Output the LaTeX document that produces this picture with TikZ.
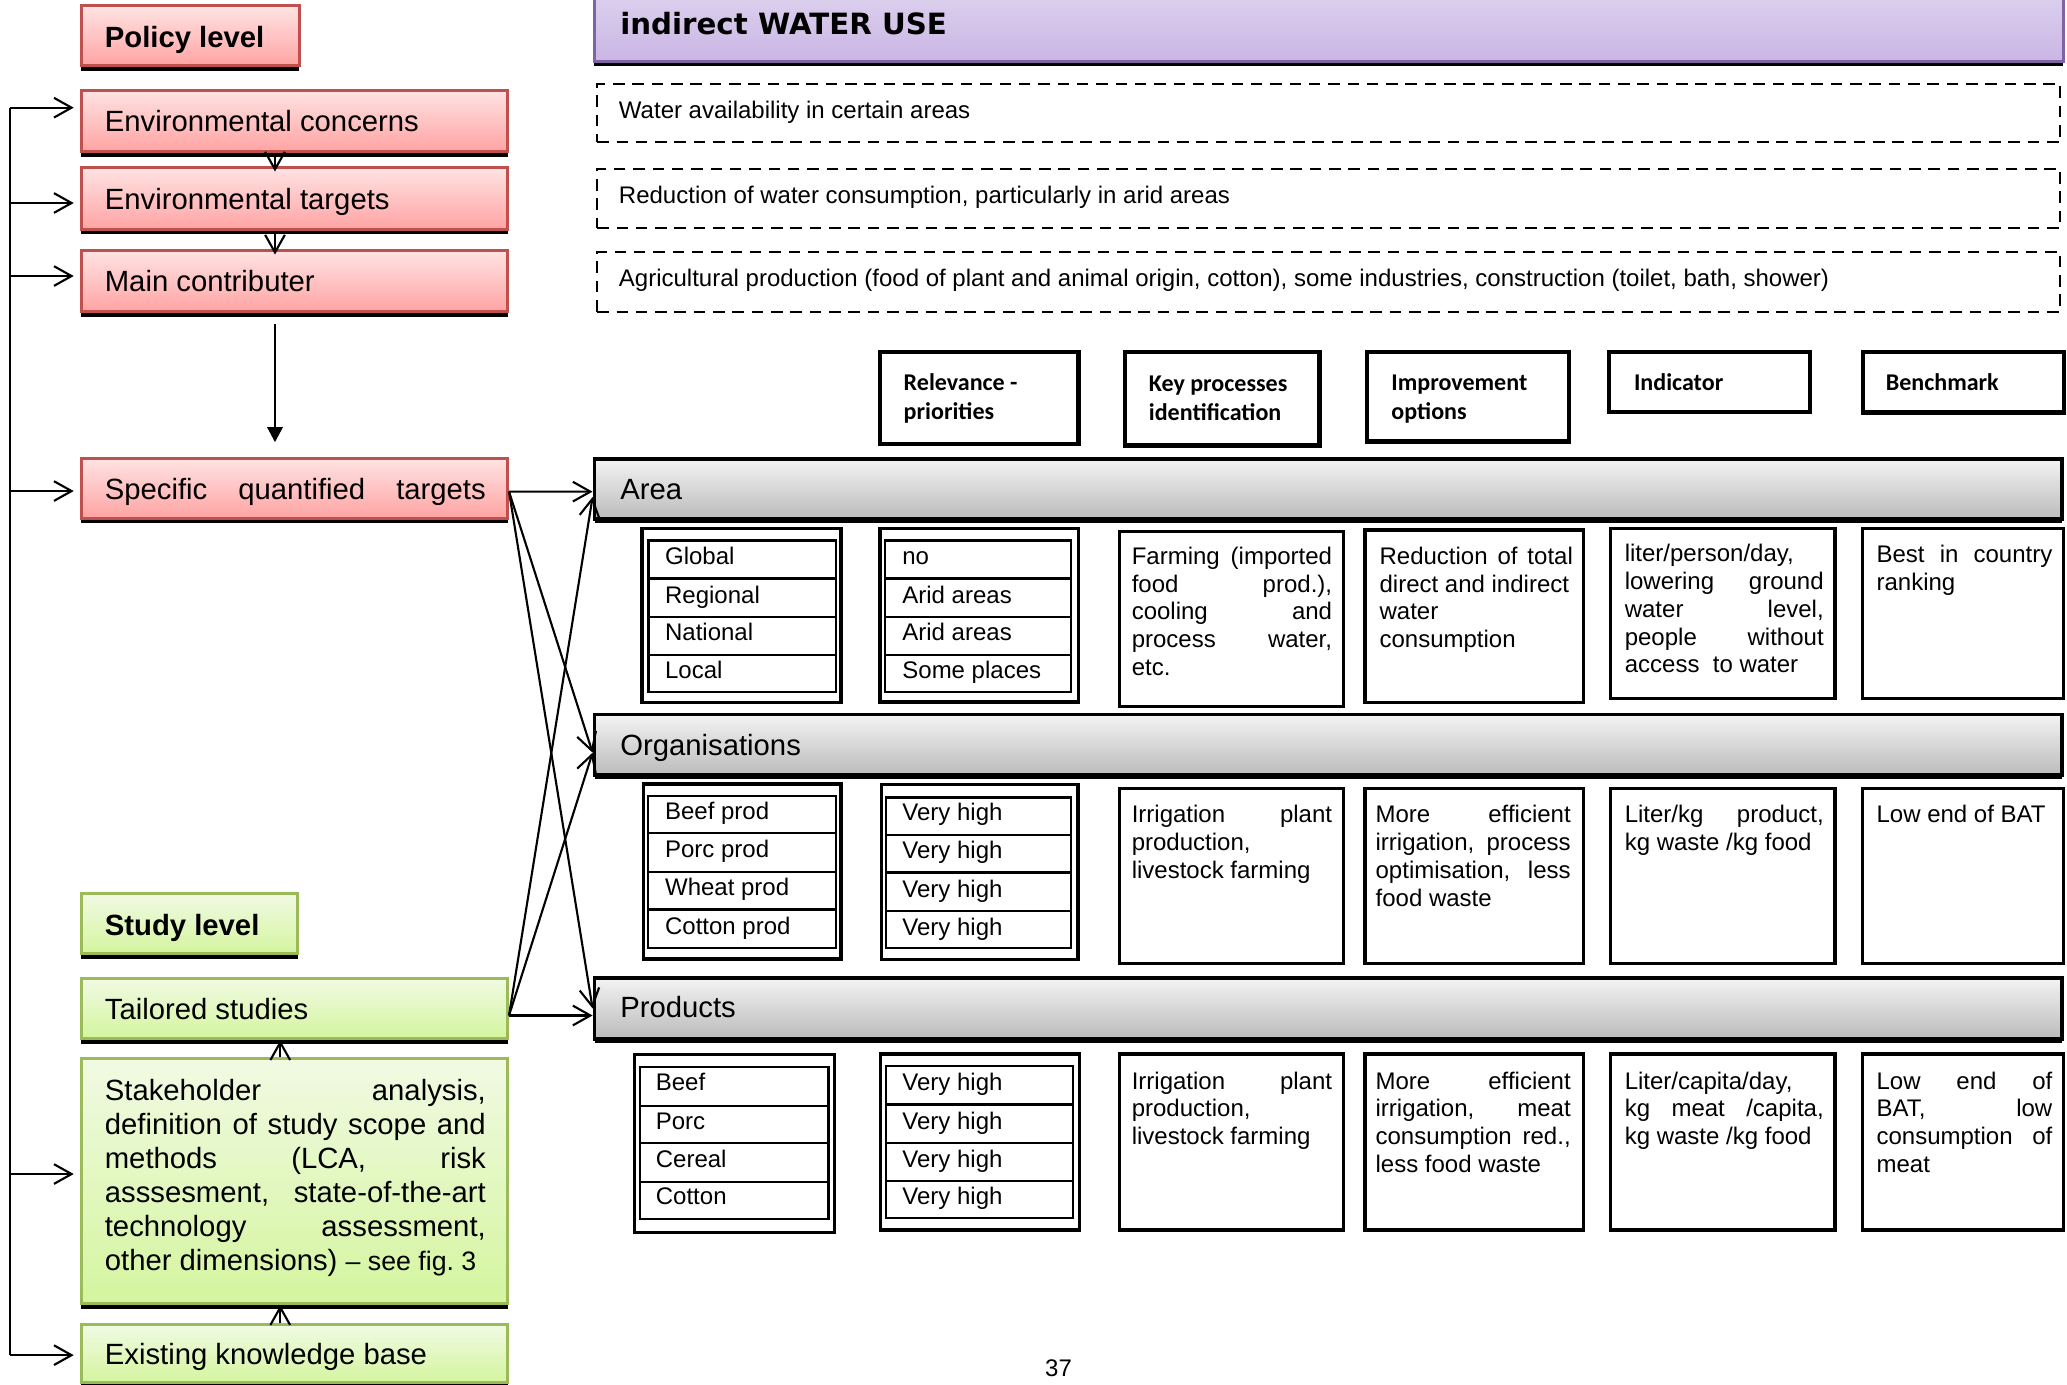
\documentclass[tikz,border=0pt]{standalone}
\usepackage{fontspec}
\setmainfont{Liberation Sans}
\newfontfamily\calibfont{Carlito}
\newfontfamily\dejafont{DejaVu Sans}
\usetikzlibrary{arrows.meta,shadows,fit}
\frenchspacing
\definecolor{redB}{HTML}{C0504D}
\definecolor{redT}{HTML}{FFE3E3}
\definecolor{redBot}{HTML}{FFA3A3}
\definecolor{grnB}{HTML}{9BBB59}
\definecolor{grnT}{HTML}{F1FAE3}
\definecolor{grnBot}{HTML}{D4F59E}
\definecolor{purB}{HTML}{8064A2}
\definecolor{purT}{HTML}{E4DEF2}
\definecolor{purBot}{HTML}{CAB5E4}
\definecolor{gryT}{HTML}{F3F3F3}
\definecolor{gryBot}{HTML}{BBBBBB}
\newcommand\bx[6]{\node[#1,inner sep=0pt,fit={(#3,#4)(#5,#6)}] (#2) {};}
\newcommand\nohyph{\hyphenpenalty=10000 \exhyphenpenalty=10000 \relax}
\tikzset{
 shad/.style={drop shadow={shadow xshift=0pt,shadow yshift=-#1,fill=black,opacity=1}},
 redbox/.style={draw=redB,line width=0.85pt,top color=redT,bottom color=redBot,shad=1.4pt},
 grnbox/.style={draw=grnB,line width=0.85pt,top color=grnT,bottom color=grnBot,shad=1.4pt},
 purbox/.style={draw=purB,line width=0.85pt,top color=purT,bottom color=purBot,shad=1.3pt},
 barbox/.style={draw=black,line width=1.1pt,top color=gryT,bottom color=gryBot,shad=1.2pt},
 hdbox/.style={draw=black,line width=1.25pt,fill=white,shad=0.5pt},
 cellbox/.style={draw=black,line width=0.9pt,fill=white,shad=0.45pt},
 rowbox/.style={draw=black,line width=0.7pt},
 dashbox/.style={draw=black,line width=0.6pt,dash pattern=on 3.3pt off 2.2pt},
 bigtxt/.style={font=\fontsize{8.33}{9.68}\selectfont,inner sep=0pt,anchor=west,text height=6pt,text depth=0pt},
 boldtxt/.style={bigtxt,font=\fontsize{8.33}{9.68}\selectfont\bfseries},
 smtxt/.style={font=\fontsize{6.83}{7.9}\selectfont,inner sep=0pt,anchor=west,text height=4.92pt,text depth=0pt},
 celltxt/.style={font=\fontsize{6.83}{7.9}\selectfont\nohyph,inner sep=0pt,anchor=north west,align=justify},
 hdtxt/.style={font=\calibfont\bfseries\fontsize{6.84}{8.25}\selectfont,inner sep=0pt,anchor=north west,align=left},
 conn/.style={line width=0.6pt},
 arr/.style={conn,-{Straight Barb[length=5pt,width=5.6pt,line width=0.6pt]}},
 tri/.style={conn,-{Triangle[length=4.3pt,width=4.4pt]}},
}
\begin{document}
\begin{tikzpicture}[x=0.37508pt,y=-0.37508pt]
\fill[white] (0,0) rectangle (1568,1050.6);
\useasboundingbox (0,0) rectangle (1568,1050.6);

% ---------- title and dashed boxes
\bx{purbox}{title}{450.6}{-30}{1565}{46.5}
\node[bigtxt,font=\dejafont\bfseries\fontsize{8.33}{9.68}\selectfont] (titlet) at (470,18) {indirect WATER USE};

\bx{dashbox}{d1}{453}{63.7}{1563}{108}
\node[smtxt] (d1t) at (469,83.4) {Water availability in certain areas};
\bx{dashbox}{d2}{453}{128}{1563}{173}
\node[smtxt] (d2t) at (469,148) {Reduction of water consumption, particularly in arid areas};
\bx{dashbox}{d3}{453}{191}{1563}{236.5}
\node[smtxt] (d3t) at (469,211) {Agricultural production (food of plant and animal origin, cotton), some industries, construction (toilet, bath, shower)};

% ---------- column headers
\bx{hdbox}{h1}{667.5}{267}{818}{337}
\node[hdtxt] (h1t) at (685,283) {Relevance -\\priorities};
\bx{hdbox}{h2}{853.5}{267}{1001}{338}
\node[hdtxt] (h2t) at (871,285) {Key processes\\identification};
\bx{hdbox}{h3}{1037}{267}{1190}{335}
\node[hdtxt] (h3t) at (1055,284) {Improvement\\options};
\bx{hdbox}{h4}{1220.5}{267}{1373}{312.6}
\node[hdtxt] (h4t) at (1239,283) {Indicator};
\bx{hdbox}{h5}{1413}{267}{1565.5}{313}
\node[hdtxt] (h5t) at (1430,283) {Benchmark};

% ---------- bars
\bx{barbox}{area}{451}{348}{1564}{393.7}
\node[bigtxt] (areat) at (470,371) {Area};
\bx{barbox}{org}{451}{542}{1564}{588}
\node[bigtxt] (orgt) at (470,565) {Organisations};
\bx{barbox}{prod}{451}{742}{1564}{788}
\node[bigtxt] (prodt) at (470,764) {Products};

% ---------- Area row
\bx{cellbox}{a1}{487}{400.6}{638}{533}
\bx{rowbox}{a1r1}{492}{410}{634}{439}
\bx{rowbox}{a1r2}{492}{439}{634}{468}
\bx{rowbox}{a1r3}{492}{468}{634}{497}
\bx{rowbox}{a1r4}{492}{497}{634}{525}
\node[smtxt] (a1t1) at (504,422) {Global};
\node[smtxt] (a1t2) at (504,451) {Regional};
\node[smtxt] (a1t3) at (504,479.5) {National};
\node[smtxt] (a1t4) at (504,508) {Local};
\bx{cellbox}{a2}{667.5}{400.6}{818}{532.5}
\bx{rowbox}{a2r1}{671.5}{410}{812.5}{439}
\bx{rowbox}{a2r2}{671.5}{439}{812.5}{468}
\bx{rowbox}{a2r3}{671.5}{468}{812.5}{497}
\bx{rowbox}{a2r4}{671.5}{497}{812.5}{525}
\node[smtxt] (a2t1) at (684,422) {no};
\node[smtxt] (a2t2) at (684,451) {Arid areas};
\node[smtxt] (a2t3) at (684,479.5) {Arid areas};
\node[smtxt] (a2t4) at (684,508) {Some places};
\bx{cellbox}{a3}{849}{403.5}{1019}{536}
\node[celltxt,text width=57pt] (a3t) at (858,414.3) {Farming (imported\linebreak food prod.),\linebreak cooling and\linebreak process water,\linebreak etc.};
\bx{cellbox}{a4}{1035.5}{402}{1201}{532.6}
\node[celltxt,text width=55pt] (a4t) at (1046,414.3) {Reduction of total\linebreak direct and indirect\newline water\newline consumption};
\bx{cellbox}{a5}{1222}{401}{1392}{530}
\node[celltxt,text width=56.6pt] (a5t) at (1232,412.5) {liter/person/day,\newline lowering ground\linebreak water level,\linebreak people without\linebreak access\ \ to water};
\bx{cellbox}{a6}{1413}{401}{1565.5}{530}
\node[celltxt,text width=50pt] (a6t) at (1423,413) {Best in country\linebreak ranking};

% ---------- Organisations row
\bx{cellbox}{o1}{488}{594.7}{638}{727.5}
\bx{rowbox}{o1r1}{491.6}{604}{634}{632}
\bx{rowbox}{o1r2}{491.6}{632}{634}{661.4}
\bx{rowbox}{o1r3}{491.6}{661.4}{634}{690}
\bx{rowbox}{o1r4}{491.6}{690}{634}{719}
\node[smtxt] (o1t1) at (504,615) {Beef prod};
\node[smtxt] (o1t2) at (504,644) {Porc prod};
\node[smtxt] (o1t3) at (504,673) {Wheat prod};
\node[smtxt] (o1t4) at (504,702) {Cotton prod};
\bx{cellbox}{o2}{668.7}{595}{817.7}{728}
\bx{rowbox}{o2r1}{672}{604.8}{812.6}{633.5}
\bx{rowbox}{o2r2}{672}{633.5}{812.6}{662}
\bx{rowbox}{o2r3}{672}{662}{812.6}{691}
\bx{rowbox}{o2r4}{672}{691}{812.6}{719}
\node[smtxt] (o2t1) at (684,616) {Very high};
\node[smtxt] (o2t2) at (684,645) {Very high};
\node[smtxt] (o2t3) at (684,674) {Very high};
\node[smtxt] (o2t4) at (684,703) {Very high};
\bx{cellbox}{o3}{849}{598}{1019}{730.6}
\node[celltxt,text width=57pt] (o3t) at (858,610.4) {Irrigation plant\linebreak production,\newline livestock farming};
\bx{cellbox}{o4}{1035.5}{598}{1201}{730.6}
\node[celltxt,text width=55.5pt] (o4t) at (1043,610.4) {More efficient\linebreak irrigation, process\linebreak optimisation, less\linebreak food waste};
\bx{cellbox}{o5}{1222}{598}{1392}{730.6}
\node[celltxt,text width=56.6pt] (o5t) at (1232,610.4) {Liter/kg product,\linebreak kg waste /kg food};
\bx{cellbox}{o6}{1413}{598}{1565.5}{730.6}
\node[celltxt,text width=50pt] (o6t) at (1423,610.4) {Low end of BAT};

% ---------- Products row
\bx{cellbox}{p1}{481}{800}{633}{934.7}
\bx{rowbox}{p1r1}{485.5}{809.6}{628.5}{839}
\bx{rowbox}{p1r2}{485.5}{839}{628.5}{867}
\bx{rowbox}{p1r3}{485.5}{867}{628.5}{896.6}
\bx{rowbox}{p1r4}{485.5}{896.6}{628.5}{924.7}
\node[smtxt] (p1t1) at (497,821) {Beef};
\node[smtxt] (p1t2) at (497,850) {Porc};
\node[smtxt] (p1t3) at (497,879) {Cereal};
\node[smtxt] (p1t4) at (497,907) {Cotton};
\bx{cellbox}{p2}{668}{799.5}{819}{933}
\bx{rowbox}{p2r1}{672}{808.6}{814}{838}
\bx{rowbox}{p2r2}{672}{838}{814}{867}
\bx{rowbox}{p2r3}{672}{867}{814}{895.8}
\bx{rowbox}{p2r4}{672}{895.8}{814}{924}
\node[smtxt] (p2t1) at (684,821) {Very high};
\node[smtxt] (p2t2) at (684,850) {Very high};
\node[smtxt] (p2t3) at (684,879) {Very high};
\node[smtxt] (p2t4) at (684,907) {Very high};
\bx{cellbox}{p3}{849}{799.5}{1019}{933}
\node[celltxt,text width=57pt] (p3t) at (858,812.4) {Irrigation plant\linebreak production,\newline livestock farming};
\bx{cellbox}{p4}{1035.5}{799.5}{1201}{933}
\node[celltxt,text width=55.5pt] (p4t) at (1043,812.4) {More efficient\linebreak irrigation, meat\linebreak consumption red.,\linebreak less food waste};
\bx{cellbox}{p5}{1222}{799.5}{1392}{933}
\node[celltxt,text width=56.6pt] (p5t) at (1232,812.4) {Liter/capita/day,\newline kg meat /capita,\linebreak kg waste /kg food};
\bx{cellbox}{p6}{1413}{799.5}{1565.5}{933}
\node[celltxt,text width=50pt] (p6t) at (1423,812.4) {Low end of\linebreak BAT, low\linebreak consumption of\linebreak meat};

\node[smtxt,anchor=center] (pg) at (803,1038) {37};

% ---------- left column: policy level
\bx{redbox}{pol}{61.6}{4.5}{227}{50}
\node[boldtxt] (polt) at (79,28) {Policy level};
\bx{redbox}{envc}{61.6}{68.3}{385}{115}
\node[bigtxt] (envct) at (79,91.5) {Environmental concerns};
\bx{redbox}{envt}{61.6}{127}{385}{174}
\node[bigtxt] (envtt) at (79,151) {Environmental targets};
\bx{redbox}{mainc}{61.6}{190}{385}{236.5}
\node[bigtxt] (mainct) at (79,213) {Main contributer};
\bx{redbox}{spec}{61.6}{347.5}{385}{393}
\node[bigtxt] (spect) at (79,371) {\makebox[108.4pt][s]{Specific quantified targets}};

% ---------- left column: study level
\bx{grnbox}{stud}{61.6}{678}{226}{723.6}
\node[boldtxt] (studt) at (79,702) {Study level};
\bx{grnbox}{tail}{61.6}{742}{385}{788}
\node[bigtxt] (tailt) at (79,765) {Tailored studies};
\bx{grnbox}{stake}{61.6}{803}{385}{989}
\node[celltxt,font=\fontsize{8.33}{9.68}\selectfont\nohyph,text width=108.4pt] (staket) at (79,818) {Stakeholder analysis,\linebreak definition of study scope and\linebreak methods (LCA, risk\linebreak asssesment, state-of-the-art\linebreak technology assessment,\linebreak other dimensions) {\fontsize{7.6}{9.68}\selectfont – see fig.~3}};
\bx{grnbox}{exist}{61.6}{1005}{385}{1049}
\node[bigtxt] (existt) at (79,1027) {Existing knowledge base};

% ---------- vertical arrows in the left column
\coordinate (mx) at (208.6,0);
\coordinate (mx2) at (212.6,0);
\draw[arr,shorten >=-1.6pt] (envc.south -| mx) -- (envt.north -| mx);
\draw[arr,shorten >=-1.6pt] (envt.south -| mx) -- (mainc.north -| mx);
\draw[tri,shorten <=3pt,shorten >=4.1pt] (mainc.south -| mx) -- (spec.north -| mx);
\draw[arr] (stake.north -| mx2) -- (tail.south -| mx2);
\draw[arr] (exist.north -| mx2) -- (stake.south -| mx2);

% ---------- feedback line
\coordinate (fbA) at (7.5,81.7);
\coordinate (fbB) at (7.5,154);
\coordinate (fbC) at (7.5,209.4);
\coordinate (fbD) at (7.5,372.5);
\coordinate (fbE) at (7.5,890.6);
\coordinate (fbF) at (7.5,1028);
\draw[conn] (fbA) -- (fbF);
\draw[arr,shorten >=1.7pt] (fbA) -- (envc.west |- fbA);
\draw[arr,shorten >=1.7pt] (fbB) -- (envt.west |- fbB);
\draw[arr,shorten >=1.7pt] (fbC) -- (mainc.west |- fbC);
\draw[arr,shorten >=1.7pt] (fbD) -- (spec.west |- fbD);
\draw[arr,shorten >=1.7pt] (fbE) -- (stake.west |- fbE);
\draw[arr,shorten >=1.7pt] (fbF) -- (exist.west |- fbF);

% ---------- crossing connectors
\draw[arr] ([yshift=-1pt]spec.east) -- ([yshift=-0.8pt]area.west);
\draw[arr] ([yshift=-1pt]spec.east) -- ([yshift=-2.25pt]org.west);
\draw[arr] ([yshift=-1pt]spec.east) -- (prod.west);
\draw[arr] ([yshift=-2pt]tail.east) -- ([yshift=-2.3pt]area.west);
\draw[arr] ([yshift=-2pt]tail.east) -- ([yshift=-2.25pt]org.west);
\draw[arr] ([yshift=-2pt]tail.east) -- ([yshift=-2pt]prod.west);
\end{tikzpicture}
\end{document}
